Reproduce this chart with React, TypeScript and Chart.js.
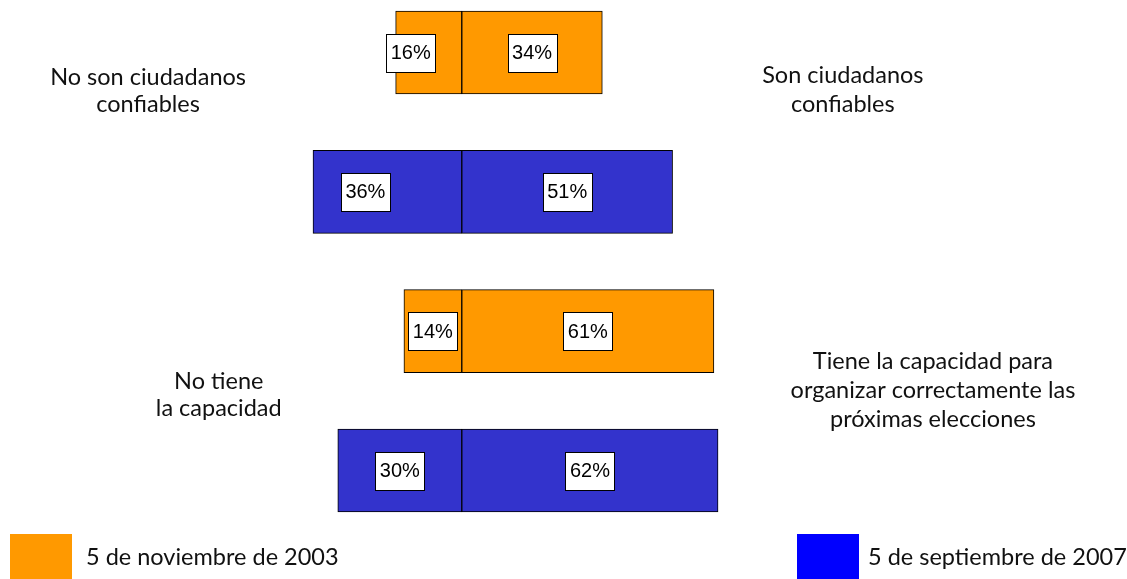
import React, { useEffect, useRef } from "react";
import { Chart, registerables } from "chart.js";

Chart.register(...registerables);

const categories = ["conf2003", "conf2007", "cap2003", "cap2007"];
const negativeValues = [16, 36, 14, 30];
const positiveValues = [34, 51, 61, 62];
const barColors = ["#FF9900", "#3333CC", "#FF9900", "#3333CC"];
const seriesNames = ["5 de noviembre de 2003", "5 de septiembre de 2007"];
const legendColors = ["#FF9900", "#0000FF"];
const leftTexts = [["No son ciudadanos", "confiables"], ["No tiene", "la capacidad"]];
const rightTexts = [["Son ciudadanos", "confiables"], ["Tiene la capacidad para", "organizar correctamente las", "próximas elecciones"]];

const TEXT_FONT = "23.5px Lato, 'Open Sans', sans-serif";
const VALUE_FONT = "20px 'Liberation Sans', Arial, sans-serif";

const overlayPlugin = {
  id: "overlay",
  afterDatasetsDraw(chart: any) {
    const ctx = chart.ctx;
    ctx.save();
    // value labels
    const nudges: Record<string, number> = { "0-0": -18, "0-1": -22 };
    chart.data.datasets.forEach((ds: any, di: number) => {
      const meta = chart.getDatasetMeta(di);
      meta.data.forEach((el: any, i: number) => {
        const v = Math.abs(ds.data[i]);
        const txt = v + "%";
        const cx = (el.x + el.base) / 2 + (nudges[di + "-" + i] || 0);
        const cy = el.y;
        ctx.font = VALUE_FONT;
        const w = ctx.measureText(txt).width + 9;
        const h = 38;
        ctx.fillStyle = "#ffffff";
        ctx.fillRect(Math.round(cx - w / 2) + 0.5, Math.round(cy - h / 2) + 0.5, Math.round(w), h);
        ctx.strokeStyle = "#000000";
        ctx.lineWidth = 1;
        ctx.strokeRect(Math.round(cx - w / 2) + 0.5, Math.round(cy - h / 2) + 0.5, Math.round(w), h);
        ctx.fillStyle = "#000000";
        ctx.textAlign = "center";
        ctx.textBaseline = "middle";
        ctx.fillText(txt, cx, cy + 1);
      });
    });
    // side texts
    const ys = chart.scales.y;
    const xs = chart.scales.x;
    ctx.font = TEXT_FONT;
    ctx.fillStyle = "#111111";
    ctx.textAlign = "center";
    ctx.textBaseline = "middle";
    const lh = 27;
    const groups = [
      { mid: (ys.getPixelForValue(0) + ys.getPixelForValue(1)) / 2 },
      { mid: (ys.getPixelForValue(2) + ys.getPixelForValue(3)) / 2 },
    ];
    const leftX = [xs.getPixelForValue(-75.9), xs.getPixelForValue(-58.8)];
    const rightX = [xs.getPixelForValue(92.2), xs.getPixelForValue(114)];
    const leftDy = [-31, -6];
    const rightDy = [-32, -10];
    groups.forEach((g, gi) => {
      const l = leftTexts[gi];
      l.forEach((s, k) => ctx.fillText(s, leftX[gi], g.mid + leftDy[gi] + (k - (l.length - 1) / 2) * lh));
      const r = rightTexts[gi];
      r.forEach((s, k) => ctx.fillText(s, rightX[gi], g.mid + rightDy[gi] + (k - (r.length - 1) / 2) * 29));
    });
    // legend
    const legX = [10, 797];
    const legTextX = [86, 868];
    seriesNames.forEach((name, i) => {
      ctx.fillStyle = legendColors[i];
      ctx.fillRect(legX[i], 534, 62, 45);
      ctx.fillStyle = "#111111";
      ctx.textAlign = "left";
      ctx.font = TEXT_FONT;
      ctx.fillText(name, legTextX[i], 557);
    });
    ctx.restore();
  },
};

export default function App() {
  const ref = useRef<HTMLCanvasElement>(null);
  useEffect(() => {
    if (!ref.current) return;
    const chart = new Chart(ref.current, {
      type: "bar",
      data: {
        labels: categories,
        datasets: [
          {
            label: "left",
            data: negativeValues.map((v) => -v),
            backgroundColor: barColors,
            borderColor: "#000000",
            borderWidth: 1,
            borderSkipped: false,
            barThickness: 83,
            clip: false as any,
          },
          {
            label: "right",
            data: positiveValues,
            backgroundColor: barColors,
            borderColor: "#000000",
            borderWidth: 1,
            borderSkipped: false,
            barThickness: 83,
            clip: false as any,
          },
        ],
      },
      options: {
        indexAxis: "y",
        animation: false,
        responsive: false,
        maintainAspectRatio: false,
        layout: { padding: { top: 52.5, bottom: 108.5, left: 0, right: 0 } },
        scales: {
          x: { type: "linear", stacked: true, min: -111.73, max: 160.95, display: false },
          y: { type: "category", stacked: true, offset: false, display: false },
        },
        plugins: { legend: { display: false }, tooltip: { enabled: false } },
      },
      plugins: [overlayPlugin],
    });
    return () => chart.destroy();
  }, []);
  return (
    <div style={{ position: "absolute", left: 0, top: 0, width: 1127, height: 579, background: "#fff" }}>
      <canvas ref={ref} width={1127} height={579} style={{ width: 1127, height: 579 }} />
    </div>
  );
}
